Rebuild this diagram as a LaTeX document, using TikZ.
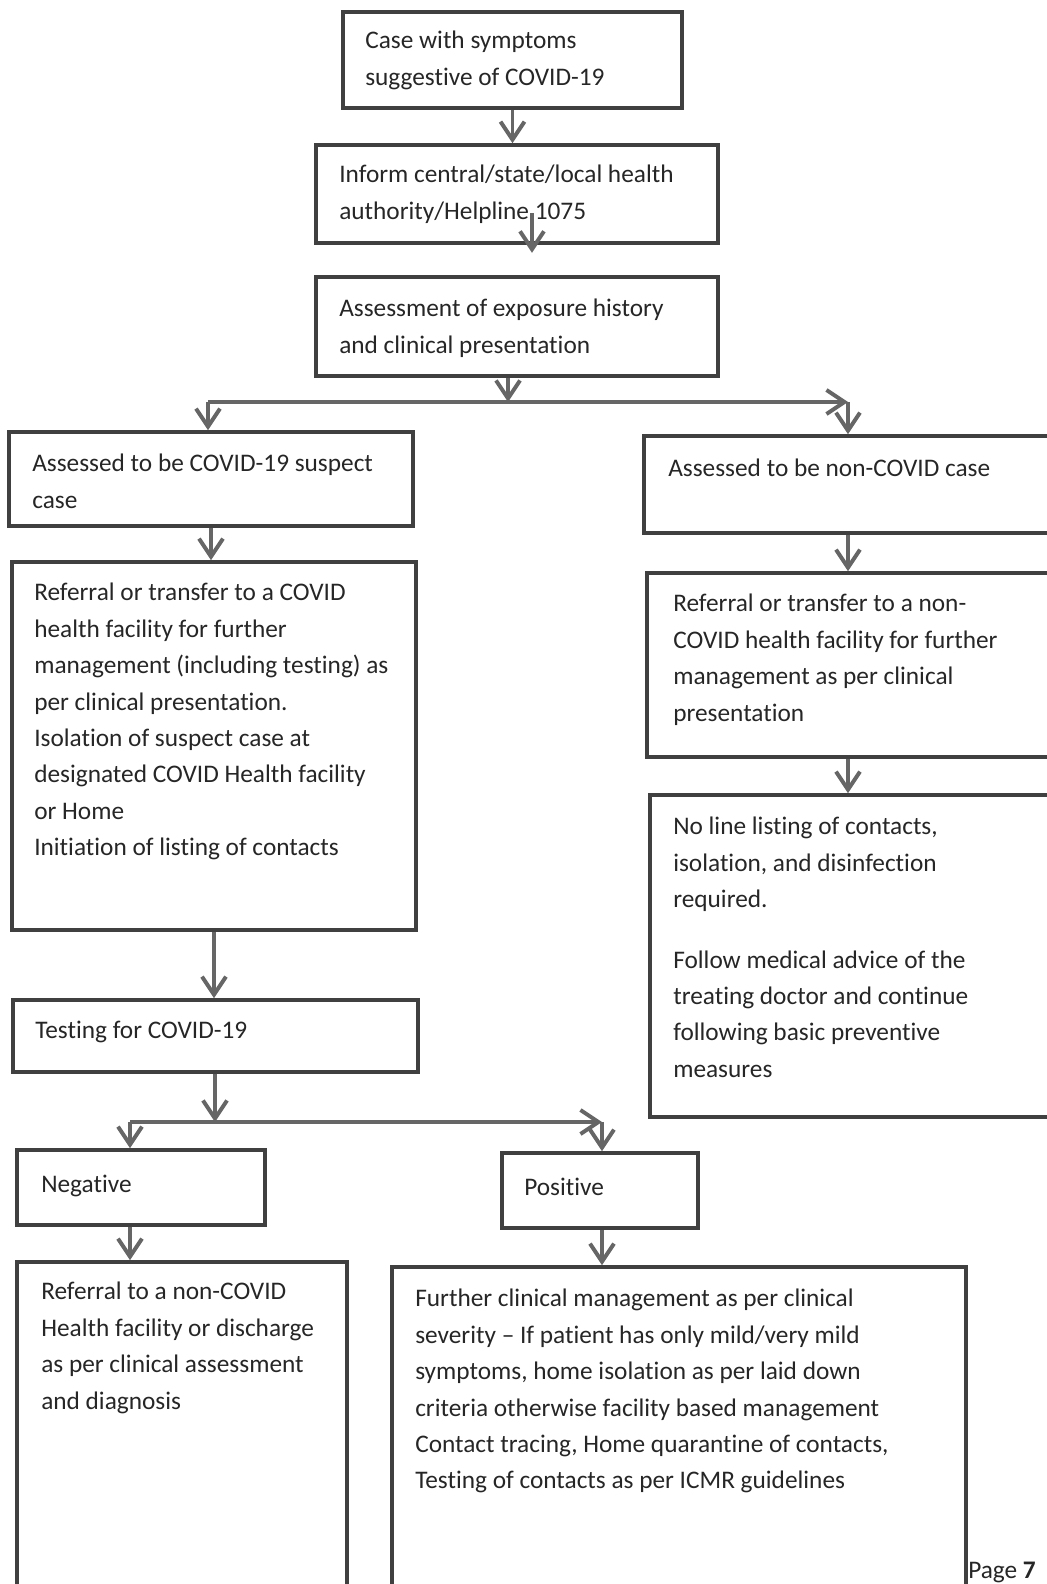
\documentclass[tikz,border=0pt]{standalone}
\usepackage{fontspec}
\setmainfont[Ligatures=NoCommon]{Carlito}
\usetikzlibrary{arrows.meta,fit}

\tikzset{
  box/.style={draw=black!75, line width=2.6pt, inner sep=0pt},
  txt/.style={anchor=north west, inner sep=0pt, align=left, text=black!85,
    font=\fontsize{18}{25.9}\selectfont, execute at begin node=\strut},
  flow/.style={draw=black!60, line width=2.3pt,
    -{Straight Barb[length=4.5mm,width=6mm,line width=2.8pt]}}
}

\begin{document}
\begin{tikzpicture}[x=0.025cm,y=-0.025cm]
	\useasboundingbox (0,0) rectangle (1046,1584);
	%%  boxes  %%%%%%%%
	\node[box, fit={(343,12) (682,108)}] (case) {};
	\node[box, fit={(316,145) (718,243)}] (inform) {};
	\node[box, fit={(316,277) (718,376)}] (assess) {};
	\node[box, fit={(9,432) (413,526)}] (suspect) {};
	\node[box, fit={(644,436) (1060,533)}] (noncovid) {};
	\node[box, fit={(12,562) (416,930)}] (referral) {};
	\node[box, fit={(647,573) (1060,757)}] (nonref) {};
	\node[box, fit={(650,795) (1060,1117)}] (noline) {};
	\node[box, fit={(13,1000) (418,1072)}] (testing) {};
	\node[box, fit={(17,1150) (265,1225)}] (neg) {};
	\node[box, fit={(502,1153) (698,1228)}] (pos) {};
	\node[box, fit={(17,1262) (347,1620)}] (negres) {};
	\node[box, fit={(392,1267) (966,1620)}] (posres) {};
	%%  texts  %%%%%%%%
	\node[txt] (tcase) at (365,31) {Case with symptoms\\suggestive of COVID-19};
	\node[txt] (tinform) at (339,165) {Inform central/state/local health\\authority/Helpline 1075};
	\node[txt] (tassess) at (339,299) {Assessment of exposure history\\and clinical presentation};
	\node[txt] (tsuspect) at (32,454) {Assessed to be COVID-19 suspect\\case};
	\node[txt] (tnoncovid) at (668,451) {Assessed to be non-COVID case};
	\node[txt] (treferral) at (34,583) {Referral or transfer to a COVID\\health facility for further\\management (including testing) as\\per clinical presentation.\\Isolation of suspect case at\\designated COVID Health facility\\or Home\\Initiation of listing of contacts};
	\node[txt] (tnonref) at (673,594) {Referral or transfer to a non-\\COVID health facility for further\\management as per clinical\\presentation};
	\node[txt] (tnoline) at (673,817) {No line listing of contacts,\\isolation, and disinfection\\required.\\[0.6cm]Follow medical advice of the\\treating doctor and continue\\following basic preventive\\measures};
	\node[txt] (ttesting) at (35,1013) {Testing for COVID-19};
	\node[txt] (tneg) at (41,1167) {Negative};
	\node[txt] (tpos) at (524,1170) {Positive};
	\node[txt] (tnegres) at (41,1282) {Referral to a non-COVID\\Health facility or discharge\\as per clinical assessment\\and diagnosis};
	\node[txt] (tposres) at (415,1289) {Further clinical management as per clinical\\severity -- If patient has only mild/very mild\\symptoms, home isolation as per laid down\\criteria otherwise facility based management\\Contact tracing, Home quarantine of contacts,\\Testing of contacts as per ICMR guidelines};
	\node[anchor=base west, inner sep=0pt, text=black!85, font=\fontsize{18}{22}\selectfont] (page) at (968,1578) {Page \textbf{7}};
	%%  connectors  %%%%%%%%
	\coordinate (h1) at (532,213);
	\coordinate (s1) at (508,402);
	\coordinate (l1) at (208,402);
	\coordinate (r1) at (848,402);
	\coordinate (s2) at (215,1122);
	\coordinate (l2) at (130,1122);
	\coordinate (r2) at (602,1122);
	\draw[flow] (case.south) -- (case.south |- inform.north);
	\draw[flow] (h1) -- ([yshift=-0.2cm]h1 |- inform.south);
	\draw[flow] (s1 |- assess.south) -- (s1);
	\draw[flow] (l1) -- (r1);
	\draw[flow] (l1) -- (l1 |- suspect.north);
	\draw[flow] (r1) -- (r1 |- noncovid.north);
	\draw[flow] (r1 |- noncovid.south) -- (r1 |- nonref.north);
	\draw[flow] (r1 |- nonref.south) -- (r1 |- noline.north);
	\draw[flow] (suspect.south) -- (suspect.south |- referral.north);
	\draw[flow] (referral.south) -- (referral.south |- testing.north);
	\draw[flow] (s2 |- testing.south) -- (s2);
	\draw[flow] (l2) -- (r2);
	\draw[flow] (l2) -- (l2 |- neg.north);
	\draw[flow] (r2) -- (r2 |- pos.north);
	\draw[flow] (l2 |- neg.south) -- (l2 |- negres.north);
	\draw[flow] (r2 |- pos.south) -- (r2 |- posres.north);
	%%%%%%%%%%%%%%%
\end{tikzpicture}
\end{document}
